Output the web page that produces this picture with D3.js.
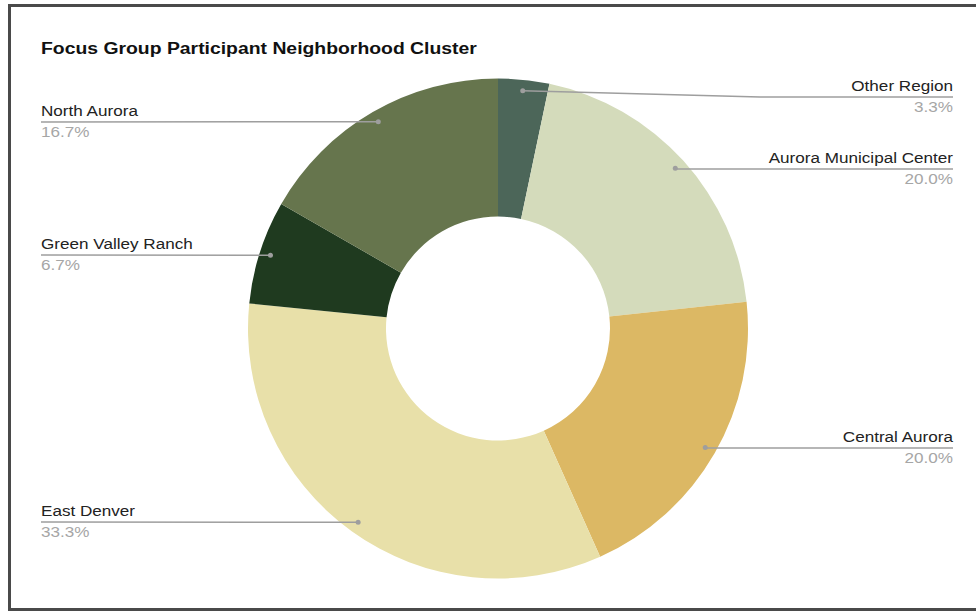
<!DOCTYPE html>
<head>
  <meta charset="utf-8">
  <title>Focus Group Participant Neighborhood Cluster</title>
  <script src="https://cdn.jsdelivr.net/npm/d3@7"></script>
  <style>
    body { margin: 0; background: #fff; }
    text { font-family: "Liberation Sans", Arial, sans-serif; }
  </style>
</head>
<body>
<div id="container"></div>
<script>

  // data, clockwise from 12 o'clock
  let regions = ["Other Region", "Aurora Municipal Center", "Central Aurora", "East Denver", "Green Valley Ranch", "North Aurora"];
  let shares = [3.3, 20.0, 20.0, 33.3, 6.7, 16.7];
  let sliceColors = ["#4c6659", "#d4dbbb", "#dcb864", "#e8e0a9", "#1f3a1f", "#66754d"];
  // which side the label sits and the y of its leader line
  let labelSide = ["right", "right", "right", "left", "left", "left"];
  let labelLineY = [97, 169, 448, 522, 255, 122];

  let svg_width = 976;
  let svg_height = 611;

  let cx = 498, cy = 328.5;
  let outerR = 250, innerR = 112, dotR = 239;
  let stretch = 1.14; // the reference text is a bit wider than Liberation Sans

  let svg = d3.select("#container").append("svg")
          .attr("width", svg_width)
          .attr("height", svg_height);

  // frame
  svg.append("rect")
          .attr("x", 9.5).attr("y", 5.5)
          .attr("width", svg_width + 10).attr("height", 604)
          .attr("fill", "#fff")
          .attr("stroke", "#4a4a4a")
          .attr("stroke-width", 3);

  function addText(x, y, anchor, size, color, weight, str) {
    svg.append("g")
            .attr("transform", "translate(" + x + "," + y + ") scale(" + stretch + ",1)")
            .append("text")
            .attr("text-anchor", anchor)
            .style("font-size", size + "px")
            .style("font-weight", weight)
            .style("fill", color)
            .text(str);
  }

  addText(41, 54, "start", 17, "#111", "bold", "Focus Group Participant Neighborhood Cluster");

  let data = regions.map(function (r, i) {
    return {name: r, value: shares[i], color: sliceColors[i], side: labelSide[i], ly: labelLineY[i]};
  });

  let pie = d3.pie()
          .sort(null)
          .value(function (d) { return d.value; });

  let arc = d3.arc()
          .innerRadius(innerR)
          .outerRadius(outerR);

  let g = svg.append("g")
          .attr("transform", "translate(" + cx + "," + cy + ")");

  let arcs = pie(data);

  g.selectAll("path.slice")
          .data(arcs)
          .enter()
          .append("path")
          .attr("class", "slice")
          .attr("d", arc)
          .attr("fill", function (d) { return d.data.color; });

  let dotArc = d3.arc().innerRadius(dotR).outerRadius(dotR);

  arcs.forEach(function (d) {
    let c = dotArc.centroid(d);
    let px = cx + c[0], py = cy + c[1];
    let ly = d.data.ly;
    let pts;
    if (d.data.side === "right") {
      let elbow = Math.abs(py - ly) > 1 ? 760 : px;
      pts = [[px, py], [elbow, ly], [953, ly]];
    } else {
      pts = [[px, py], [41, ly]];
    }

    svg.append("path")
            .attr("d", d3.line()(pts))
            .attr("fill", "none")
            .attr("stroke", "#9e9e9e")
            .attr("stroke-width", 1.5);

    svg.append("circle")
            .attr("cx", px)
            .attr("cy", py)
            .attr("r", 2.5)
            .attr("fill", "#9e9e9e");

    let tx = d.data.side === "right" ? 953 : 41;
    let anchor = d.data.side === "right" ? "end" : "start";

    addText(tx, ly - 6, anchor, 15, "#222", "normal", d.data.name);
    addText(tx, ly + 15, anchor, 15, "#a6a6a6", "normal", d3.format(".1f")(d.data.value) + "%");
  });

</script>
</body>
